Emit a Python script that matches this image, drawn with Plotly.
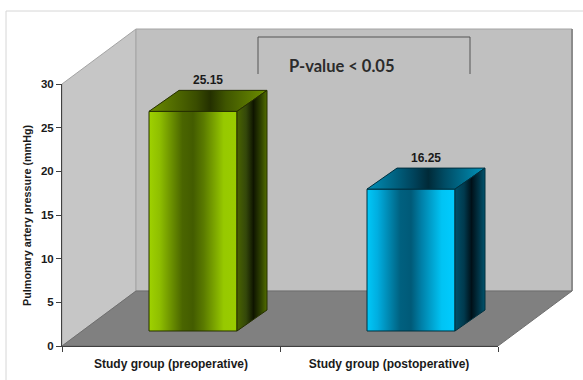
import plotly.graph_objects as go

# ---- data -------------------------------------------------------------
categories = ["Study group (preoperative)", "Study group (postoperative)"]
pressure = [25.15, 16.25]
value_labels = ["25.15", "16.25"]
y_ticks = [0, 5, 10, 15, 20, 25, 30]
y_title = "Pulmonary artery pressure (mmHg)"
p_note = "P-value < 0.05"

# ---- page / axis geometry (pixels) -------------------------------------
W, H = 583, 380
M_L, M_T, M_B, M_R = 62, 28, 34, 0
PLOT_W = W - M_L - M_R          # 521
PLOT_H = H - M_T - M_B          # 318
AXIS_W = 436                    # front x axis length
AXIS_H = 262                    # front y axis length (0..30)
Y_MAX = 30
PX_X = AXIS_W / len(categories)  # px per category unit
PX_Y = AXIS_H / Y_MAX            # px per mmHg

# 3-D look, in pixels converted to data units
DEPTH_X, DEPTH_Y = 74 / PX_X, 55 / PX_Y        # floor / wall depth
BAR_W = 88 / PX_X                               # front face width
BAR_DX, BAR_DY = 30 / PX_X, 21 / PX_Y           # bar depth
BAR_OX, BAR_OY = 22 / PX_X, 15 / PX_Y           # bar front offset into the box

X0, X1 = -0.5, len(categories) - 0.5

# gradients for bar faces (left -> right)
front_scales = [
    [[0, "#9fd200"], [0.12, "#8fbf00"], [0.38, "#4a6500"], [0.5, "#435c00"],
     [0.62, "#5a7a00"], [0.85, "#97c900"], [1, "#9acc00"]],
    [[0, "#00c8f8"], [0.12, "#00aee0"], [0.38, "#00607f"], [0.5, "#005a78"],
     [0.62, "#0080a8"], [0.85, "#00c4f4"], [1, "#00ccff"]],
]
side_scales = [
    [[0, "#4a6400"], [0.3, "#34480a"], [0.55, "#0f1500"], [0.8, "#2f4200"], [1, "#526e00"]],
    [[0, "#00506a"], [0.3, "#003a4e"], [0.55, "#001018"], [0.8, "#003446"], [1, "#00546e"]],
]
top_scales = [
    [[0, "#6b8c00"], [0.4, "#3a4d00"], [0.52, "#243000"], [0.65, "#3f5500"], [1, "#6e9000"]],
    [[0, "#0090b8"], [0.4, "#00425a"], [0.52, "#002a38"], [0.65, "#004a62"], [1, "#0094bc"]],
]
edge_colors = ["#263000", "#00303f"]

fig = go.Figure()


def poly(xs, ys, fill=None, line="#999999", lw=1, gradient=None):
    kw = dict(
        x=list(xs) + [xs[0]], y=list(ys) + [ys[0]],
        mode="lines", fill="toself",
        line=dict(color=line, width=lw),
        hoverinfo="skip", showlegend=False,
        xaxis="x", yaxis="y",
    )
    if gradient is not None:
        kw["fillgradient"] = dict(type="horizontal", colorscale=gradient)
    else:
        kw["fillcolor"] = fill
    fig.add_trace(go.Scatter(**kw))


# walls and floor
poly([X0, X0 + DEPTH_X, X0 + DEPTH_X, X0],
     [0, DEPTH_Y, Y_MAX + DEPTH_Y, Y_MAX], fill="#c6c6c6", line="#a4a4a4")
poly([X0 + DEPTH_X, X1 + DEPTH_X, X1 + DEPTH_X, X0 + DEPTH_X],
     [DEPTH_Y, DEPTH_Y, Y_MAX + DEPTH_Y, Y_MAX + DEPTH_Y], fill="#c0c0c0", line="#a4a4a4")
fig.add_trace(go.Scatter(
    x=[X1 + DEPTH_X, X1 + DEPTH_X], y=[DEPTH_Y, Y_MAX + DEPTH_Y], mode="lines",
    line=dict(color="#8c8c8c", width=2), hoverinfo="skip", showlegend=False))
poly([X0, X1, X1 + DEPTH_X, X0 + DEPTH_X],
     [0, 0, DEPTH_Y, DEPTH_Y], fill="#808080", line="#6e6e6e")

# bars: front, top and side faces
for i, v in enumerate(pressure):
    xl = i + BAR_OX - BAR_W / 2
    xr = i + BAR_OX + BAR_W / 2
    yb = BAR_OY
    yt = BAR_OY + v
    ec = edge_colors[i]
    poly([xl, xr, xr, xl], [yb, yb, yt, yt], gradient=front_scales[i], line=ec)
    poly([xl, xr, xr + BAR_DX, xl + BAR_DX],
         [yt, yt, yt + BAR_DY, yt + BAR_DY], gradient=top_scales[i], line=ec)
    poly([xr, xr + BAR_DX, xr + BAR_DX, xr],
         [yb, yb + BAR_DY, yt + BAR_DY, yt], gradient=side_scales[i], line=ec)
    fig.add_annotation(
        x=i + BAR_OX + BAR_DX / 2, y=yt + BAR_DY, xref="x", yref="y",
        text=f"<b>{value_labels[i]}</b>", showarrow=False,
        xanchor="center", yanchor="bottom", yshift=1,
        font=dict(family="Liberation Sans, Arial", size=12, color="#1a1a1a"))

# invisible anchor trace for the visible front axes
fig.add_trace(go.Scatter(x=[0], y=[0], mode="markers", marker=dict(opacity=0),
                         xaxis="x2", yaxis="y2", hoverinfo="skip", showlegend=False))

x_tick_font = dict(family="Liberation Sans, Arial", size=12, color="#1a1a1a")
y_tick_font = dict(family="Liberation Sans, Arial", size=11.5, color="#1a1a1a")

fig.update_layout(
    width=W, height=H,
    margin=dict(l=M_L, r=M_R, t=M_T, b=M_B, pad=0),
    paper_bgcolor="white", plot_bgcolor="rgba(0,0,0,0)",
    showlegend=False,
    xaxis=dict(domain=[0, 1], range=[X0, X0 + len(categories) * PLOT_W / AXIS_W],
               visible=False, fixedrange=True),
    yaxis=dict(domain=[0, 1], range=[0, Y_MAX * PLOT_H / AXIS_H],
               visible=False, fixedrange=True),
    xaxis2=dict(domain=[0, AXIS_W / PLOT_W], range=[X0, X1], anchor="y2",
                showline=True, linecolor="#404040", linewidth=1,
                showgrid=False, zeroline=False,
                tickmode="array", tickvals=list(range(len(categories))),
                ticktext=[f"<b>{c}</b>" for c in categories],
                ticks="", tickfont=x_tick_font, ticklabelstandoff=7,
                minor=dict(tickmode="array",
                           tickvals=[k - 0.5 for k in range(len(categories) + 1)],
                           ticks="outside", ticklen=5, tickcolor="#404040",
                           showgrid=False),
                fixedrange=True),
    yaxis2=dict(domain=[0, AXIS_H / PLOT_H], range=[0, Y_MAX], anchor="x2",
                showline=True, linecolor="#404040", linewidth=1,
                showgrid=False, zeroline=False,
                tickmode="array", tickvals=y_ticks,
                ticktext=[f"<b>{t}</b>" for t in y_ticks],
                ticks="outside", ticklen=5, tickcolor="#404040",
                tickfont=y_tick_font, fixedrange=True),
)

# outer frame
fig.add_shape(type="rect", xref="paper", yref="paper",
              x0=(6 - M_L) / PLOT_W, x1=(W + 20 - M_L) / PLOT_W,
              y0=(H - M_B - (H + 20)) / PLOT_H, y1=(H - M_B - 11) / PLOT_H,
              line=dict(color="#d6d6d6", width=1), layer="below")

# significance bracket
bx0, bx1 = (258 - M_L) / PLOT_W, (470 - M_L) / PLOT_W
by_top, by_bot = (H - M_B - 37) / PLOT_H, (H - M_B - 74) / PLOT_H
fig.add_shape(type="path", xref="paper", yref="paper",
              path=f"M {bx0} {by_bot} L {bx0} {by_top} L {bx1} {by_top} L {bx1} {by_bot}",
              line=dict(color="#555555", width=1))
fig.add_annotation(xref="paper", yref="paper",
                   x=(341.5 - M_L) / PLOT_W, y=(H - M_B - 65.7) / PLOT_H,
                   xanchor="center", yanchor="middle",
                   text=f"<b>{p_note}</b>", showarrow=False,
                   font=dict(family="Lato, Open Sans", size=16.5, color="#2b2b2b"))

# y axis title
fig.add_annotation(xref="paper", yref="paper",
                   x=(27 - M_L) / PLOT_W, y=(H - M_B - 215) / PLOT_H,
                   xanchor="center", yanchor="middle",
                   text=f"<b>{y_title}</b>", textangle=-90, showarrow=False,
                   font=dict(family="Liberation Sans, Arial", size=10.8, color="#1a1a1a"))

fig.write_html("out.html")
